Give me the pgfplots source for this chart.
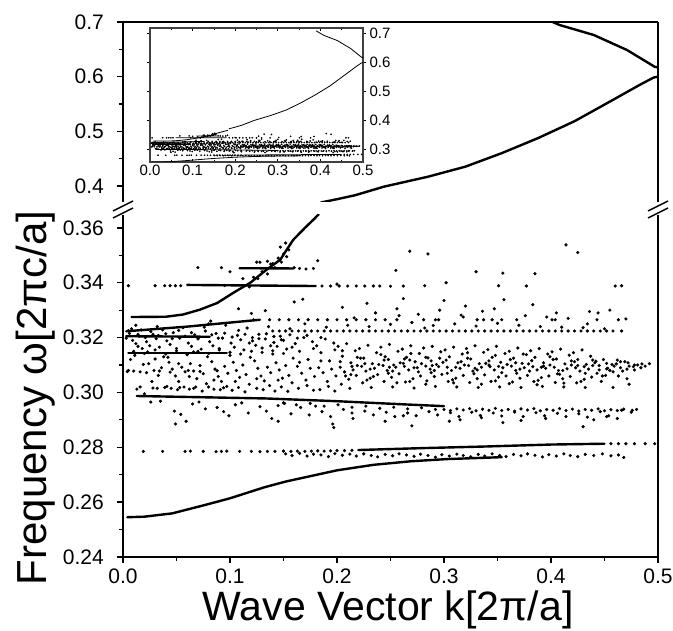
\documentclass[border=0pt]{standalone}
\usepackage{fontspec}
\setmainfont{Liberation Sans}
\usepackage{pgfplots}
\usepackage{pgfplotstable}
\pgfplotsset{compat=1.18}

% ---- thick bands (drawn as lines) ----
\pgfplotstableread[row sep=\\]{k f\\
0.004 0.2545\\0.020 0.2547\\0.046 0.2559\\0.077 0.2590\\0.100 0.2614\\0.132 0.2654\\0.152 0.2675\\0.200 0.2716\\0.234 0.2736\\0.269 0.2749\\0.303 0.2757\\0.354 0.2764\\
}\Lone
\pgfplotstableread[row sep=\\]{k f\\
0.220 0.2790\\0.280 0.2797\\0.340 0.2803\\0.400 0.2810\\0.450 0.2813\\
}\Ltwo
\pgfplotstableread[row sep=\\]{k f\\
0.013 0.2987\\0.134 0.2978\\0.200 0.2968\\0.260 0.2957\\0.300 0.2950\\
}\Lthree
\pgfplotstableread[row sep=\\]{k f\\
0.005 0.3144\\0.097 0.3144\\
}\Lfour
\pgfplotstableread[row sep=\\]{k f\\
0.003 0.3205\\0.081 0.3203\\
}\Lfive
\pgfplotstableread[row sep=\\]{k f\\
0.003 0.3223\\0.060 0.3240\\0.128 0.3265\\
}\Lsix
\pgfplotstableread[row sep=\\]{k f\\
0.060 0.3392\\0.180 0.3388\\
}\Lseven
\pgfplotstableread[row sep=\\]{k f\\
0.109 0.3453\\0.159 0.3452\\
}\Leight
% steep branch (lower panel) and its continuation (upper panel)
\pgfplotstableread[row sep=\\]{k f\\
0.008 0.3275\\0.040 0.3276\\0.056 0.3284\\0.072 0.3302\\0.088 0.3326\\0.103 0.3363\\0.119 0.3400\\0.134 0.3447\\0.147 0.3484\\0.159 0.3556\\0.170 0.3600\\0.178 0.3630\\0.183 0.3650\\
}\Steep
\pgfplotstableread[row sep=\\]{k f\\
0.185 0.3700\\0.200 0.3760\\0.217 0.3833\\0.244 0.3990\\0.285 0.4171\\0.320 0.4355\\0.354 0.4602\\0.388 0.4878\\0.422 0.5186\\0.456 0.5555\\0.484 0.5862\\0.496 0.5985\\0.500 0.6000\\
}\Rise
\pgfplotstableread[row sep=\\]{k f\\
0.390 0.7100\\0.408 0.6945\\0.440 0.6762\\0.471 0.6488\\0.497 0.6180\\0.500 0.6170\\
}\Fall

% ---- dotted rows ----
\pgfplotstableread[row sep=\\]{k f\\
0.005 0.3389\\0.030 0.3389\\0.039 0.3389\\0.044 0.3389\\0.049 0.3389\\0.054 0.3389\\
0.186 0.3388\\0.194 0.3388\\0.202 0.3388\\0.210 0.3388\\0.218 0.3388\\0.226 0.3388\\0.234 0.3388\\0.240 0.3388\\0.250 0.3387\\0.262 0.3388\\0.282 0.3389\\0.302 0.3400\\0.351 0.3389\\0.377 0.3388\\0.466 0.3389\\
0.137 0.3265\\0.146 0.3265\\0.155 0.3265\\0.164 0.3265\\0.173 0.3265\\0.182 0.3265\\0.191 0.3265\\0.200 0.3265\\0.209 0.3265\\0.218 0.3265\\0.227 0.3265\\0.236 0.3265\\0.245 0.3265\\0.256 0.3265\\0.281 0.3265\\0.292 0.3265\\0.295 0.3265\\0.331 0.3265\\0.337 0.3265\\0.345 0.3265\\0.354 0.3265\\0.368 0.3265\\0.401 0.3265\\0.404 0.3265\\0.443 0.3265\\0.463 0.3265\\
0.140 0.3224\\0.146 0.3224\\0.152 0.3224\\0.158 0.3224\\0.164 0.3224\\0.170 0.3224\\0.176 0.3224\\0.182 0.3224\\0.188 0.3224\\0.194 0.3224\\0.200 0.3224\\0.206 0.3224\\0.212 0.3224\\0.218 0.3224\\0.224 0.3224\\0.230 0.3224\\0.236 0.3224\\0.242 0.3224\\0.248 0.3224\\0.254 0.3224\\0.260 0.3224\\0.266 0.3224\\0.272 0.3224\\0.278 0.3224\\0.284 0.3224\\0.290 0.3224\\0.296 0.3224\\0.302 0.3224\\0.308 0.3224\\0.314 0.3224\\0.320 0.3224\\0.326 0.3224\\0.332 0.3224\\0.338 0.3224\\0.344 0.3224\\0.350 0.3224\\0.356 0.3224\\0.362 0.3224\\0.368 0.3224\\0.374 0.3224\\0.380 0.3224\\0.386 0.3224\\0.392 0.3224\\0.398 0.3224\\0.404 0.3224\\0.410 0.3224\\0.416 0.3224\\0.422 0.3224\\0.428 0.3224\\0.434 0.3224\\0.440 0.3224\\0.446 0.3224\\0.452 0.3224\\0.458 0.3224\\0.466 0.3224\\
0.019 0.2785\\0.037 0.2785\\0.058 0.2785\\0.063 0.2786\\0.075 0.2785\\0.087 0.2784\\0.092 0.2785\\0.097 0.2786\\0.109 0.2785\\0.120 0.2785\\0.128 0.2784\\0.135 0.2785\\0.142 0.2785\\0.150 0.2786\\0.157 0.2785\\0.163 0.2786\\0.170 0.2785\\0.176 0.2786\\0.182 0.2787\\0.188 0.2786\\0.194 0.2787\\0.200 0.2788\\0.207 0.2788\\0.214 0.2789\\
0.456 0.2813\\0.463 0.2813\\0.470 0.2813\\0.478 0.2813\\0.488 0.2813\\0.497 0.2813\\
0.300 0.2938\\0.306 0.2934\\0.312 0.2940\\0.318 0.2936\\0.324 0.2941\\0.330 0.2933\\0.336 0.2939\\0.342 0.2935\\0.348 0.2942\\0.354 0.2934\\0.360 0.2938\\0.366 0.2932\\0.372 0.2940\\0.378 0.2936\\0.384 0.2941\\0.390 0.2933\\0.396 0.2938\\0.402 0.2935\\0.408 0.2941\\0.414 0.2934\\0.420 0.2939\\0.426 0.2932\\0.432 0.2938\\0.438 0.2935\\0.444 0.2940\\0.450 0.2933\\0.456 0.2937\\0.462 0.2934\\0.468 0.2939\\0.476 0.2935\\
}\Dots

% ---- scattered states ----
\pgfplotstableread[row sep=\\]{k f\\
0.006 0.3215\\0.009 0.3190\\0.012 0.3178\\0.008 0.3232\\0.015 0.3205\\0.018 0.3160\\0.010 0.3078\\0.016 0.3075\\0.019 0.3102\\0.007 0.3120\\0.013 0.3012\\0.020 0.2995\\0.017 0.3228\\0.004 0.3076\\0.011 0.3135\\0.014 0.3168\\
0.022 0.3185\\0.025 0.3170\\0.028 0.3212\\0.031 0.3196\\0.034 0.3165\\0.037 0.3228\\0.024 0.3105\\0.029 0.3080\\0.033 0.3062\\0.036 0.3090\\0.027 0.3040\\0.032 0.3015\\0.039 0.3018\\0.026 0.2965\\0.035 0.2968\\0.038 0.3130\\0.023 0.3148\\0.030 0.3122\\
0.041 0.3188\\0.044 0.3175\\0.047 0.3218\\0.050 0.3160\\0.053 0.3198\\0.056 0.3236\\0.043 0.3110\\0.046 0.3085\\0.049 0.3060\\0.052 0.3040\\0.055 0.3092\\0.058 0.3075\\0.045 0.3015\\0.051 0.3010\\0.057 0.3020\\0.048 0.2932\\0.054 0.2920\\0.059 0.2895\\0.042 0.3128\\0.060 0.3138\\0.049 0.2885\\
0.061 0.3180\\0.064 0.3168\\0.067 0.3210\\0.070 0.3195\\0.073 0.3158\\0.076 0.3238\\0.063 0.3105\\0.066 0.3078\\0.069 0.3050\\0.072 0.3098\\0.075 0.3068\\0.078 0.3032\\0.062 0.3012\\0.068 0.3020\\0.074 0.3005\\0.065 0.2958\\0.071 0.2965\\0.077 0.2940\\0.079 0.3130\\0.080 0.3250\\0.066 0.3148\\
0.081 0.3185\\0.084 0.3170\\0.087 0.3215\\0.090 0.3160\\0.093 0.3198\\0.096 0.3245\\0.083 0.3112\\0.086 0.3085\\0.089 0.3058\\0.092 0.3040\\0.095 0.3095\\0.098 0.3070\\0.085 0.3012\\0.091 0.3010\\0.097 0.3022\\0.088 0.2945\\0.094 0.2930\\0.099 0.2915\\0.082 0.3260\\0.100 0.3135\\
0.101 0.3180\\0.104 0.3165\\0.107 0.3208\\0.110 0.3192\\0.113 0.3155\\0.116 0.3235\\0.103 0.3110\\0.106 0.3080\\0.109 0.3055\\0.112 0.3100\\0.115 0.3065\\0.118 0.3030\\0.102 0.3008\\0.108 0.3018\\0.114 0.3002\\0.105 0.2955\\0.111 0.2962\\0.117 0.2925\\0.119 0.3128\\0.120 0.3288\\0.108 0.3305\\0.112 0.3415\\
0.121 0.3188\\0.124 0.3172\\0.127 0.3212\\0.130 0.3162\\0.133 0.3195\\0.136 0.3240\\0.123 0.3115\\0.126 0.3088\\0.129 0.3060\\0.132 0.3042\\0.135 0.3092\\0.138 0.3072\\0.125 0.3015\\0.131 0.3010\\0.137 0.3025\\0.128 0.2948\\0.134 0.2932\\0.139 0.2905\\0.122 0.3265\\0.140 0.3140\\0.133 0.3298\\0.125 0.3475\\
0.141 0.3182\\0.144 0.3168\\0.147 0.3205\\0.150 0.3190\\0.153 0.3158\\0.156 0.3232\\0.143 0.3108\\0.146 0.3082\\0.149 0.3052\\0.152 0.3098\\0.155 0.3062\\0.158 0.3035\\0.142 0.3005\\0.148 0.3020\\0.154 0.3004\\0.145 0.2952\\0.151 0.2960\\0.157 0.2922\\0.159 0.3125\\0.160 0.3330\\0.145 0.2895\\0.140 0.3470\\
0.161 0.3178\\0.165 0.3150\\0.169 0.3200\\0.173 0.3120\\0.177 0.3185\\0.163 0.3095\\0.167 0.3070\\0.171 0.3045\\0.175 0.3088\\0.179 0.3058\\0.164 0.3015\\0.172 0.3025\\0.178 0.3008\\0.166 0.2945\\0.174 0.2918\\0.180 0.2950\\0.170 0.3250\\0.168 0.3340\\
0.181 0.3170\\0.185 0.3145\\0.189 0.3195\\0.193 0.3115\\0.197 0.3180\\0.183 0.3090\\0.187 0.3072\\0.191 0.3040\\0.195 0.3085\\0.199 0.3060\\0.184 0.3010\\0.192 0.3022\\0.198 0.3005\\0.186 0.2930\\0.194 0.2912\\0.196 0.2885\\0.197 0.2872\\0.190 0.3238\\0.182 0.3480\\
0.201 0.3168\\0.205 0.3132\\0.209 0.3178\\0.213 0.3108\\0.217 0.3152\\0.203 0.3092\\0.207 0.3075\\0.211 0.3048\\0.215 0.3082\\0.219 0.3098\\0.204 0.3030\\0.212 0.3015\\0.218 0.3062\\0.206 0.2938\\0.214 0.2925\\0.210 0.3245\\0.216 0.3272\\0.200 0.3395\\
0.221 0.3160\\0.225 0.3125\\0.229 0.3172\\0.233 0.3105\\0.237 0.3145\\0.223 0.3095\\0.227 0.3078\\0.231 0.3052\\0.235 0.3088\\0.239 0.3102\\0.224 0.3035\\0.232 0.3018\\0.238 0.3065\\0.226 0.2932\\0.234 0.2918\\0.230 0.3240\\0.236 0.3290\\
0.241 0.3165\\0.245 0.3130\\0.249 0.3175\\0.253 0.3100\\0.257 0.3150\\0.243 0.3098\\0.247 0.3080\\0.251 0.3055\\0.255 0.3092\\0.259 0.3108\\0.244 0.3040\\0.252 0.3020\\0.258 0.3068\\0.246 0.2928\\0.254 0.2912\\0.250 0.3248\\0.256 0.3305\\0.248 0.3120\\0.255 0.3445\\
0.261 0.3158\\0.265 0.3128\\0.269 0.3170\\0.273 0.3112\\0.277 0.3142\\0.263 0.3095\\0.267 0.3082\\0.271 0.3050\\0.275 0.3090\\0.279 0.3105\\0.264 0.3038\\0.272 0.3016\\0.278 0.3060\\0.266 0.2925\\0.274 0.2915\\0.270 0.3255\\0.276 0.3285\\0.268 0.3118\\0.268 0.3515\\0.262 0.3342\\0.270 0.2878\\
0.281 0.3162\\0.285 0.3126\\0.289 0.3168\\0.293 0.3102\\0.297 0.3148\\0.283 0.3096\\0.287 0.3085\\0.291 0.3058\\0.295 0.3094\\0.299 0.3110\\0.284 0.3042\\0.292 0.3022\\0.298 0.3066\\0.286 0.2930\\0.294 0.2918\\0.290 0.3244\\0.296 0.3300\\0.288 0.3115\\0.285 0.3505\\0.282 0.3235\\
0.301 0.3155\\0.305 0.3130\\0.309 0.3165\\0.313 0.3108\\0.317 0.3140\\0.303 0.3092\\0.307 0.3080\\0.311 0.3052\\0.315 0.3088\\0.319 0.3100\\0.304 0.3040\\0.312 0.3020\\0.318 0.3062\\0.306 0.2926\\0.314 0.2912\\0.310 0.3250\\0.316 0.3282\\0.305 0.2895\\0.320 0.3315\\
0.321 0.3160\\0.325 0.3122\\0.329 0.3170\\0.333 0.3105\\0.337 0.3146\\0.323 0.3098\\0.327 0.3078\\0.331 0.3050\\0.335 0.3092\\0.339 0.3106\\0.324 0.3036\\0.332 0.3018\\0.338 0.3064\\0.326 0.2928\\0.334 0.2916\\0.330 0.3242\\0.336 0.3296\\0.330 0.3440\\
0.341 0.3156\\0.345 0.3128\\0.349 0.3168\\0.353 0.3110\\0.357 0.3142\\0.343 0.3094\\0.347 0.3082\\0.351 0.3056\\0.355 0.3090\\0.359 0.3102\\0.344 0.3040\\0.352 0.3020\\0.358 0.3060\\0.346 0.2925\\0.354 0.2914\\0.350 0.3252\\0.356 0.3338\\0.355 0.2890\\0.355 0.3435\\
0.361 0.3150\\0.365 0.3125\\0.369 0.3162\\0.373 0.3106\\0.377 0.3138\\0.363 0.3096\\0.367 0.3080\\0.371 0.3052\\0.375 0.3090\\0.379 0.3104\\0.364 0.3038\\0.372 0.3018\\0.378 0.3062\\0.366 0.2928\\0.374 0.2912\\0.370 0.3245\\0.376 0.3280\\
0.381 0.3152\\0.385 0.3128\\0.389 0.3160\\0.393 0.3108\\0.397 0.3140\\0.383 0.3094\\0.387 0.3082\\0.391 0.3054\\0.395 0.3088\\0.399 0.3100\\0.384 0.3040\\0.392 0.3022\\0.398 0.3060\\0.386 0.2926\\0.394 0.2915\\0.390 0.3240\\0.396 0.3275\\0.385 0.3433\\
0.401 0.3148\\0.405 0.3122\\0.409 0.3158\\0.413 0.3104\\0.417 0.3136\\0.403 0.3092\\0.407 0.3080\\0.411 0.3050\\0.415 0.3086\\0.419 0.3100\\0.404 0.3036\\0.412 0.3020\\0.418 0.3058\\0.406 0.2924\\0.414 0.2912\\0.410 0.3238\\0.416 0.3270\\0.414 0.3538\\
0.421 0.3145\\0.425 0.3120\\0.429 0.3155\\0.433 0.3102\\0.437 0.3132\\0.423 0.3090\\0.427 0.3078\\0.431 0.3048\\0.435 0.3085\\0.439 0.3098\\0.424 0.3035\\0.432 0.3018\\0.438 0.3056\\0.426 0.2922\\0.434 0.2910\\0.430 0.3236\\0.436 0.3295\\0.425 0.3510\\0.430 0.2875\\
0.441 0.3108\\0.445 0.3098\\0.449 0.3120\\0.453 0.3088\\0.457 0.3102\\0.443 0.3070\\0.447 0.3040\\0.451 0.3062\\0.455 0.3080\\0.459 0.3096\\0.446 0.2930\\0.454 0.2915\\0.450 0.3232\\0.444 0.3290\\0.458 0.3018\\
0.461 0.3104\\0.465 0.3090\\0.469 0.3112\\0.473 0.3096\\0.477 0.3094\\0.481 0.3100\\0.485 0.3104\\0.492 0.3105\\0.463 0.3060\\0.467 0.3078\\0.471 0.3050\\0.462 0.2905\\0.466 0.2935\\0.475 0.2928\\0.480 0.2938\\0.470 0.3268\\0.460 0.3388\\0.473 0.3030\\
0.152 0.2776\\0.158 0.2770\\0.165 0.2778\\0.172 0.2768\\0.178 0.2775\\0.185 0.2772\\0.192 0.2766\\0.198 0.2777\\0.205 0.2771\\0.212 0.2775\\0.218 0.2768\\0.225 0.2776\\0.232 0.2770\\0.238 0.2765\\0.245 0.2774\\0.252 0.2769\\0.258 0.2776\\0.265 0.2772\\0.272 0.2767\\0.278 0.2775\\0.285 0.2770\\0.292 0.2764\\0.298 0.2773\\0.305 0.2768\\0.312 0.2775\\0.318 0.2770\\0.325 0.2765\\0.332 0.2774\\0.338 0.2768\\0.345 0.2776\\0.352 0.2770\\0.358 0.2766\\0.365 0.2774\\0.372 0.2769\\0.378 0.2776\\0.385 0.2771\\0.392 0.2765\\0.398 0.2773\\0.405 0.2768\\0.412 0.2776\\0.418 0.2770\\0.425 0.2766\\0.432 0.2774\\0.440 0.2770\\0.448 0.2776\\0.456 0.2769\\0.463 0.2772\\0.468 0.2763\\
0.118 0.3385\\0.122 0.3420\\0.126 0.3415\\0.130 0.3440\\0.135 0.3432\\0.138 0.3468\\0.142 0.3455\\0.145 0.3490\\0.148 0.3475\\0.150 0.3505\\0.153 0.3495\\0.155 0.3520\\0.147 0.3530\\0.152 0.3545\\0.128 0.3475\\0.135 0.3478\\0.160 0.3455\\0.165 0.3452\\0.171 0.3450\\0.178 0.3452\\0.092 0.3455\\0.070 0.3455\\0.095 0.3390\\0.100 0.3440\\
0.003 0.3198\\0.005 0.3225\\0.014 0.3212\\0.021 0.3200\\0.026 0.3222\\0.033 0.3208\\0.040 0.3214\\0.046 0.3196\\0.052 0.3226\\0.058 0.3205\\0.064 0.3218\\0.071 0.3200\\0.077 0.3224\\0.083 0.3210\\0.089 0.3198\\0.095 0.3216\\0.102 0.3202\\0.108 0.3226\\0.114 0.3212\\0.121 0.3200\\0.127 0.3196\\0.134 0.3214\\0.141 0.3204\\0.148 0.3192\\0.156 0.3210\\0.163 0.3198\\0.172 0.3208\\0.185 0.3200\\
0.010 0.3150\\0.020 0.3142\\0.030 0.3155\\0.040 0.3140\\0.050 0.3152\\0.060 0.3138\\0.070 0.3150\\0.080 0.3142\\0.090 0.3155\\0.100 0.3146\\0.110 0.3140\\0.120 0.3150\\0.130 0.3146\\0.140 0.3152\\0.150 0.3142\\
0.005 0.3080\\0.022 0.3072\\0.034 0.3078\\0.044 0.3074\\0.061 0.3080\\0.072 0.3076\\0.088 0.3079\\0.016 0.3020\\0.028 0.3016\\0.041 0.3022\\0.053 0.3018\\0.066 0.3015\\0.080 0.3020\\0.094 0.3017\\
0.203 0.3112\\0.214 0.3095\\0.222 0.3125\\0.231 0.3085\\0.244 0.3118\\0.252 0.3078\\0.263 0.3122\\0.272 0.3090\\0.283 0.3128\\0.291 0.3080\\0.302 0.3118\\0.311 0.3092\\0.322 0.3125\\0.331 0.3082\\0.342 0.3115\\0.351 0.3095\\0.362 0.3120\\0.371 0.3085\\0.382 0.3116\\0.391 0.3092\\0.402 0.3120\\0.411 0.3080\\0.422 0.3112\\0.431 0.3094\\0.442 0.3114\\0.452 0.3086\\0.462 0.3118\\0.472 0.3108\\0.478 0.3082\\0.488 0.3096\\
0.208 0.3060\\0.228 0.3045\\0.248 0.3070\\0.268 0.3040\\0.288 0.3072\\0.308 0.3046\\0.328 0.3068\\0.348 0.3042\\0.368 0.3070\\0.388 0.3044\\0.408 0.3066\\0.428 0.3040\\0.448 0.3060\\
0.150 0.2962\\0.162 0.2955\\0.175 0.2960\\0.188 0.2950\\0.201 0.2955\\0.214 0.2946\\0.227 0.2950\\0.240 0.2942\\0.253 0.2946\\0.266 0.2940\\0.279 0.2944\\0.292 0.2938\\
0.205 0.3152\\0.213 0.3065\\0.219 0.3128\\0.226 0.3105\\0.234 0.3058\\0.241 0.3138\\0.249 0.3092\\0.256 0.3035\\0.262 0.3106\\0.269 0.3142\\0.276 0.3075\\0.283 0.3030\\0.289 0.3098\\0.296 0.3125\\0.303 0.3070\\0.309 0.3035\\0.316 0.3112\\0.322 0.3145\\0.329 0.3088\\0.335 0.3030\\0.342 0.3100\\0.348 0.3135\\0.354 0.3072\\0.361 0.3032\\0.367 0.3108\\0.374 0.3140\\0.380 0.3078\\0.387 0.3028\\0.393 0.3096\\0.399 0.3130\\0.406 0.3068\\0.412 0.3034\\0.419 0.3115\\0.425 0.3098\\0.432 0.3070\\0.439 0.3118\\0.445 0.3082\\0.452 0.3106\\0.458 0.3075\\0.465 0.3112\\0.471 0.3085\\0.478 0.3100\\0.484 0.3090\\
0.215 0.2905\\0.245 0.2895\\0.262 0.2915\\0.315 0.2900\\0.335 0.2908\\0.372 0.2898\\0.395 0.2905\\0.440 0.2900\\0.452 0.2912\\
0.205 0.3310\\0.228 0.3325\\0.258 0.3280\\0.300 0.3335\\0.318 0.3275\\0.347 0.3305\\0.383 0.3320\\0.405 0.3290\\0.434 0.3250\\0.455 0.3300\\
0.012 0.3245\\0.032 0.3240\\0.052 0.3105\\0.062 0.3058\\0.085 0.3045\\0.105 0.3040\\0.125 0.3050\\0.145 0.3045\\0.165 0.3110\\0.185 0.3115\\0.118 0.3180\\0.138 0.3170\\0.158 0.3165\\0.178 0.3160\\0.198 0.3155\\
}\Cloud

\pgfplotsset{
  mainstyle/.style={
    scale only axis, width=535pt, xmin=0, xmax=0.5,
    /pgf/number format/assume math mode=true,
    tick label style={font=\fontsize{21}{21}\selectfont, inner sep=1pt},
    yticklabel style={xshift=-12pt},
    xticklabel style={yshift=-5pt},
    axis line style={line width=1.6pt},
    major tick style={line width=1.3pt, black},
    minor tick style={line width=1.1pt, black},
    major tick length=6pt, minor tick length=4pt,
    tick align=outside, clip mode=individual,
  },
  curve/.style={black, line width=2.4pt, line cap=round, no markers},
  pts/.style={black, only marks, mark=*, mark size=1.4pt},
  icurve/.style={black, line width=0.8pt, no markers},
  ipts/.style={black, only marks, mark=*, mark size=0.6pt},
}

\begin{document}
\begin{tikzpicture}
\path[use as bounding box] (0,0) rectangle (673pt,631pt);

% lower panel
\begin{axis}[mainstyle, name=low, at={(123pt,74pt)}, anchor=south west, height=342pt,
  ymin=0.24, ymax=0.3647,
  axis x line*=bottom, axis y line*=left,
  xtick={0,0.1,0.2,0.3,0.4,0.5}, minor x tick num=1,
  ytick={0.24,0.26,0.28,0.30,0.32,0.34,0.36}, minor y tick num=1,
  xticklabel style={/pgf/number format/.cd, fixed, fixed zerofill, precision=1},
  yticklabel style={/pgf/number format/.cd, fixed, fixed zerofill, precision=2},
  scaled ticks=false]
  \addplot[curve] table {\Lone};
  \addplot[curve] table {\Ltwo};
  \addplot[curve] table {\Lthree};
  \addplot[curve] table {\Lfour};
  \addplot[curve] table {\Lfive};
  \addplot[curve] table {\Lsix};
  \addplot[curve] table {\Lseven};
  \addplot[curve] table {\Leight};
  \addplot[curve] table {\Steep};
  \addplot[pts] table {\Dots};
  \addplot[pts] table {\Cloud};
\end{axis}
\draw[line width=1.6pt] (low.south east) -- (low.north east);

% upper panel
\begin{axis}[mainstyle, name=up, at={(123pt,429pt)}, anchor=south west, height=180pt,
  ymin=0.3709, ymax=0.7,
  axis x line*=top, axis y line*=left, xtick=\empty,
  ytick={0.4,0.5,0.6,0.7}, minor y tick num=1,
  yticklabel style={/pgf/number format/.cd, fixed, fixed zerofill, precision=1}]
  \addplot[curve] table {\Rise};
  \addplot[curve] table {\Fall};
\end{axis}
\draw[line width=1.6pt] (up.south east) -- (up.north east);

% axis break marks
\draw[line width=1.5pt] (113pt,420pt) -- (133pt,430pt);
\draw[line width=1.5pt] (113pt,413pt) -- (133pt,423pt);
\draw[line width=1.5pt] (648pt,420pt) -- (668pt,430pt);
\draw[line width=1.5pt] (648pt,413pt) -- (668pt,423pt);

% inset
\begin{axis}[at={(150pt,469pt)}, anchor=south west, scale only axis, width=213pt, height=134pt,
  xmin=0, xmax=0.5, ymin=0.255, ymax=0.72,
  axis background/.style={fill=white},
  axis line style={line width=1.1pt, black!75},
  /pgf/number format/assume math mode=true,
  tick label style={font=\fontsize{15}{15}\selectfont},
  yticklabel pos=right,
  xtick={0,0.1,0.2,0.3,0.4,0.5}, minor x tick num=1,
  ytick={0.3,0.4,0.5,0.6,0.7},
  xtick align=inside, ytick align=outside,
  major tick length=3pt, minor tick length=2pt,
  tick style={line width=0.8pt, black},
  xticklabel style={/pgf/number format/.cd, fixed, fixed zerofill, precision=1},
  yticklabel style={/pgf/number format/.cd, fixed, fixed zerofill, precision=1},
  scaled ticks=false]
  \addplot[icurve] table {\Lone};
  \addplot[icurve] table {\Ltwo};
  \addplot[icurve] table {\Lthree};
  \addplot[icurve] table {\Lfour};
  \addplot[icurve] table {\Lfive};
  \addplot[icurve] table {\Lsix};
  \addplot[icurve] table {\Lseven};
  \addplot[icurve] table {\Leight};
  \addplot[icurve] table {\Steep};
  \addplot[icurve] table {\Rise};
  \addplot[icurve] table {\Fall};
  \addplot[ipts] table {\Dots};
  \addplot[ipts] table {\Cloud};
\end{axis}

% axis titles
\node[rotate=90, inner sep=0pt, font=\fontsize{42}{42}\selectfont] at (36pt,233pt) {Frequency ω[2πc/a]};
\node[inner sep=0pt, font=\fontsize{41}{41}\selectfont] at (388pt,21pt) {Wave Vector k[2π/a]};
\end{tikzpicture}
\end{document}
